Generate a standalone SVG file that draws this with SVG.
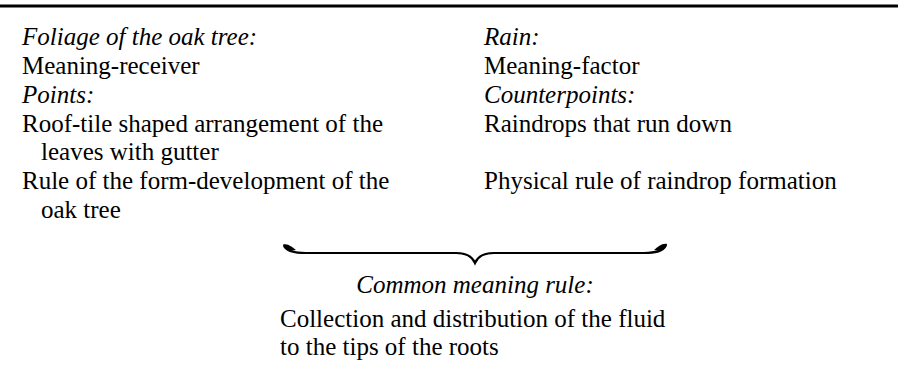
<svg xmlns="http://www.w3.org/2000/svg" width="898" height="382" viewBox="0 0 898 382">
<style>
text{font-family:"Liberation Serif","Times New Roman",serif;font-size:25px;fill:#000}
.i{font-style:italic}
</style>
<rect width="898" height="382" fill="#fff"/>
<line x1="0" y1="6" x2="898" y2="6" stroke="#000" stroke-width="2.8"/>
<g id="left">
<text class="i" x="22" y="45">Foliage of the oak tree:</text>
<text x="22" y="74">Meaning-receiver</text>
<text class="i" x="22" y="103">Points:</text>
<text x="22" y="132">Roof-tile shaped arrangement of the</text>
<text x="41" y="160">leaves with gutter</text>
<text x="22" y="189">Rule of the form-development of the</text>
<text x="41" y="218">oak tree</text>
</g>
<g id="right">
<text class="i" x="484" y="45">Rain:</text>
<text x="484" y="74">Meaning-factor</text>
<text class="i" x="484" y="103">Counterpoints:</text>
<text x="484" y="132">Raindrops that run down</text>
<text x="484" y="189">Physical rule of raindrop formation</text>
</g>
<g id="brace">
<path d="M284,246 C287,252 296,253 306,253 L456,253 C466,253 472,256 475,263 C478,256 484,253 494,253 L644,253 C654,253 663,252 666,245" fill="none" stroke="#000" stroke-width="2.2"/>
<path d="M283,244.5 C288,243 292,247 296,250 L290,251 C286,249 283,247 283,244.5 Z" fill="#000"/>
<path d="M667,244 C662,243 658,247 654,250 L660,251 C664,249 667,247 667,244 Z" fill="#000"/>
</g>
<g id="common">
<text class="i" x="475" y="293" text-anchor="middle">Common meaning rule:</text>
<text x="280" y="327">Collection and distribution of the fluid</text>
<text x="280" y="355">to the tips of the roots</text>
</g>
</svg>
